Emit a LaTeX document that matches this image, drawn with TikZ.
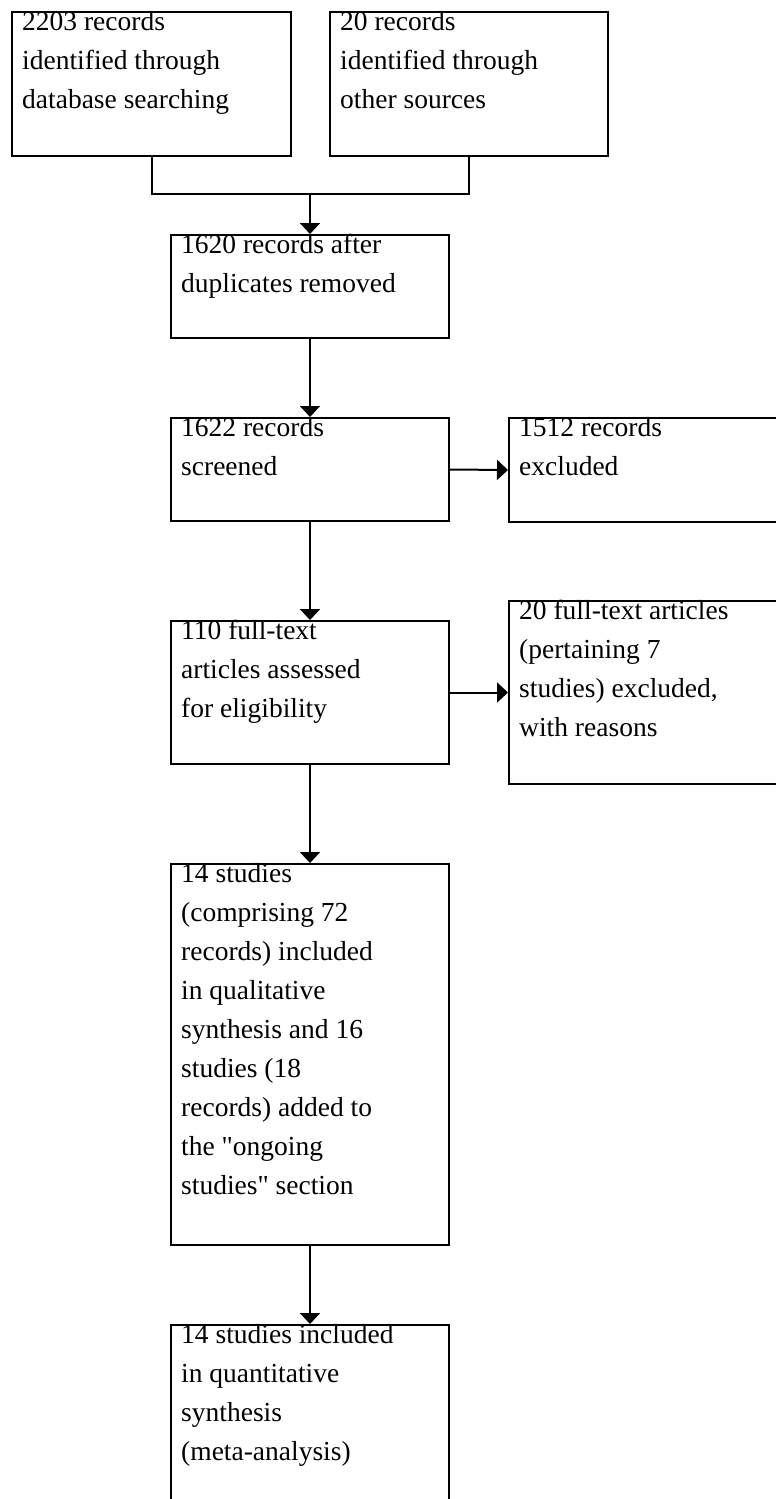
\documentclass[tikz,border=0pt]{standalone}
\usepackage{fontspec}
\newfontfamily\boxfont{Liberation Serif}
\usetikzlibrary{arrows.meta}
\begin{document}
\begin{tikzpicture}[x=1pt,y=-1pt,
  box/.style={draw,line width=2pt,anchor=north west,inner sep=0pt,minimum width=278pt},
  txt/.style={anchor=north west,inner sep=0pt,align=left,xshift=11pt,font=\boxfont\fontsize{27.5}{39}\selectfont},
  conn/.style={line width=2pt},
  arr/.style={line width=2pt,-{Triangle[width=20pt,length=11pt]}}]
\useasboundingbox (0,0) rectangle (776,1499);
\clip (0,0) rectangle (776,1499);
\node[box,minimum width=279pt,minimum height=144pt] (a) at (11,11) {};
\node[box,minimum height=144pt] (b) at (329,11) {};
\node[box,minimum height=103pt] (c) at (170,234) {};
\node[box,minimum height=103pt] (d) at (170,417) {};
\node[box,minimum width=300pt,minimum height=104pt] (e) at (508,417) {};
\node[box,minimum height=143pt] (f) at (170,620) {};
\node[box,minimum width=300pt,minimum height=183pt] (g) at (508,600) {};
\node[box,minimum height=381pt] (h) at (170,863) {};
\node[box,minimum height=220pt] (i) at (170,1324) {};

\node[txt] (ta) at (a.north west) {\rule{0pt}{19pt}2203 records\\identified through\\database searching};
\node[txt] (tb) at (b.north west) {\rule{0pt}{19pt}20 records\\identified through\\other sources};
\node[txt] (tc) at (c.north west) {\rule{0pt}{18pt}1620 records after\\duplicates removed};
\node[txt] (td) at (d.north west) {\rule{0pt}{19pt}1622 records\\screened};
\node[txt] (te) at (e.north west) {\rule{0pt}{19pt}1512 records\\excluded};
\node[txt] (tf) at (f.north west) {\rule{0pt}{19pt}110 full-text\\articles assessed\\for eligibility};
\node[txt] (tg) at (g.north west) {\rule{0pt}{19pt}20 full-text articles\\(pertaining 7\\studies) excluded,\\with reasons};
\node[txt] (th) at (h.north west) {\rule{0pt}{19pt}14 studies\\(comprising 72\\records) included\\in qualitative\\synthesis and 16\\studies (18\\records) added to\\the "ongoing\\studies" section};
\node[txt] (ti) at (i.north west) {\rule{0pt}{19pt}14 studies included\\in quantitative\\synthesis\\(meta-analysis)};

\coordinate (m) at (c.north |- 0,194);
\draw[conn] (a.south) |- (m) -| (b.south);
\draw[arr] (m) -- (c.north);
\draw[arr] (c.south) -- (d.north);
\draw[arr] (d.east) -- (e.west);
\draw[arr] (d.south) -- (f.north);
\draw[arr] (f.east) -- (f.east -| g.west);
\draw[arr] (f.south) -- (h.north);
\draw[arr] (h.south) -- (i.north);
\end{tikzpicture}
\end{document}
